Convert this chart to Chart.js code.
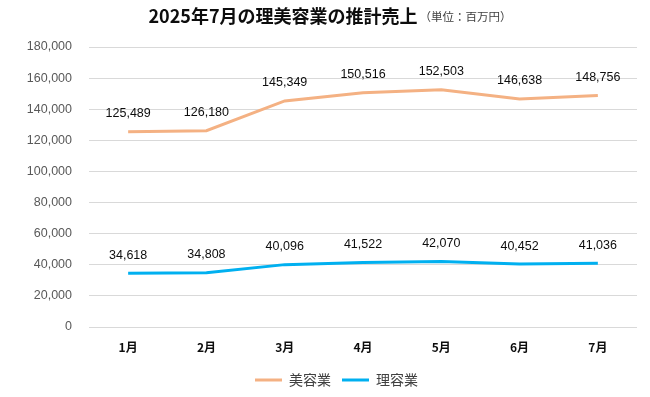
<!DOCTYPE html>
<html>
<head>
<meta charset="utf-8">
<script src="https://cdn.jsdelivr.net/npm/chart.js@4/dist/chart.umd.min.js"></script>
<style>
  html, body { margin: 0; padding: 0; background: #fff; }
  #wrap { width: 650px; height: 397px; }
</style>
</head>
<body>
<div id="wrap"><canvas id="lineChart"></canvas></div>
<script>
var months = ['1月', '2月', '3月', '4月', '5月', '6月', '7月'];
var biyou = [125489, 126180, 145349, 150516, 152503, 146638, 148756];
var riyou = [34618, 34808, 40096, 41522, 42070, 40452, 41036];
var titleText = '2025年7月の理美容業の推計売上';
var unitText = '（単位：百万円）';

var jpFont = '"Noto Sans CJK JP", "Liberation Sans", sans-serif';

// title + unit drawn together so they center as one line
var titlePlugin = {
	id: 'titleLine',
	afterDraw: function(chart) {
		var ctx = chart.ctx;
		ctx.save();
		ctx.textBaseline = 'middle';
		ctx.font = 'bold 18px ' + jpFont;
		var w1 = ctx.measureText(titleText).width;
		ctx.font = '11.5px ' + jpFont;
		var w2 = ctx.measureText(unitText).width;
		var x = 330 - (w1 + w2 + 2) / 2;
		ctx.font = 'bold 18px ' + jpFont;
		ctx.fillStyle = '#0d0d0d';
		ctx.fillText(titleText, x, 16);
		ctx.font = '11.5px ' + jpFont;
		ctx.fillStyle = '#404040';
		ctx.fillText(unitText, x + w1 + 2, 17);
		ctx.restore();
	}
};

// legend sits a bit right of center in the original
var legendShift = {
	id: 'legendShift',
	afterUpdate: function(chart) {
		var lg = chart.legend;
		lg.left += 18;
		lg.right += 18;
		lg.adjustHitBoxes();
	}
};

// value labels above each point
var valueLabels = {
	id: 'valueLabels',
	afterDatasetsDraw: function(chart) {
		var ctx = chart.ctx;
		ctx.save();
		ctx.font = '12.5px "Liberation Sans", sans-serif';
		ctx.fillStyle = '#0d0d0d';
		ctx.textAlign = 'center';
		ctx.textBaseline = 'middle';
		chart.data.datasets.forEach(function(ds, i) {
			chart.getDatasetMeta(i).data.forEach(function(pt, j) {
				ctx.fillText(ds.data[j].toLocaleString('en-US'), pt.x, pt.y - 18);
			});
		});
		ctx.restore();
	}
};

var chartdata = {
	labels: months,
	datasets: [
		{
			label: '美容業',
			data: biyou,
			borderColor: '#F4B183',
			backgroundColor: '#F4B183',
			borderWidth: 3,
			pointRadius: 0,
			tension: 0
		},
		{
			label: '理容業',
			data: riyou,
			borderColor: '#00B0F0',
			backgroundColor: '#00B0F0',
			borderWidth: 3,
			pointRadius: 0,
			tension: 0
		}
	]
};

var options = {
	responsive: true,
	maintainAspectRatio: false,
	animation: false,
	layout: { padding: { top: 47, right: 13, left: 0, bottom: 0 } },
	plugins: {
		title: { display: false },
		tooltip: { enabled: false },
		legend: {
			display: true,
			position: 'bottom',
			labels: {
				usePointStyle: true,
				pointStyle: 'line',
				pointStyleWidth: 27,
				boxHeight: 13,
				padding: 11,
				color: '#404040',
				font: { family: jpFont, size: 14 }
			}
		}
	},
	scales: {
		x: {
			offset: true,
			grid: { display: false, drawTicks: false, offset: true },
			border: { display: false },
			ticks: {
				padding: 13,
				color: '#0d0d0d',
				font: { family: jpFont, size: 12, weight: 'bold' }
			},
			afterFit: function(scale) { scale.height = 35; }
		},
		y: {
			min: 0,
			max: 180000,
			ticks: {
				stepSize: 20000,
				padding: 17,
				color: '#595959',
				font: { family: '"Liberation Sans", sans-serif', size: 12.5 },
				callback: function(v) { return v.toLocaleString('en-US'); }
			},
			grid: { color: '#d9d9d9', drawTicks: false },
			border: { display: false },
			afterFit: function(scale) { scale.width = 89; }
		}
	}
};

var ctx = document.getElementById('lineChart');
var lineGraph = new Chart(ctx, {
	type: 'line',
	data: chartdata,
	options: options,
	plugins: [titlePlugin, legendShift, valueLabels]
});
</script>
</body>
</html>
